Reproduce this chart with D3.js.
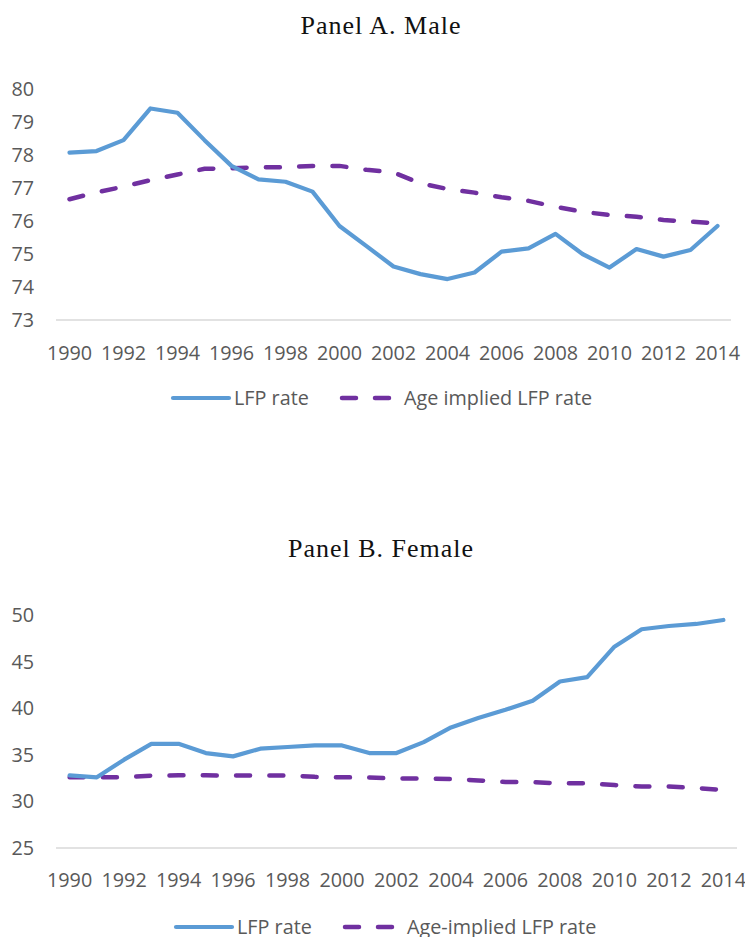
<!DOCTYPE html>
<html>
<head>
<meta charset="utf-8">
<script src="https://cdn.jsdelivr.net/npm/d3@7"></script>
<style>
  body { margin: 0; background: #fff; }
  svg { display: block; }
  .tick-label { font-family: "Open Sans", sans-serif; font-size: 19.8px; fill: #595959; }
  .legend-text { font-family: "Open Sans", sans-serif; font-size: 19.8px; fill: #595959; }
  .panel-title { font-family: "Liberation Serif", serif; font-size: 26px; fill: #111; }
</style>
</head>
<body>
<div id="chart"></div>
<script>
var years = d3.range(1990, 2015);

var maleLfp = [78.07, 78.12, 78.45, 79.41, 79.28, 78.45, 77.67, 77.26, 77.19, 76.89,
               75.85, 75.24, 74.62, 74.39, 74.24, 74.44, 75.07, 75.17, 75.61, 75.0,
               74.59, 75.15, 74.92, 75.12, 75.85];
var maleAge = [76.66, 76.87, 77.04, 77.24, 77.41, 77.58, 77.6, 77.63, 77.63, 77.67,
               77.67, 77.55, 77.47, 77.14, 76.97, 76.86, 76.72, 76.61, 76.43, 76.28,
               76.18, 76.13, 76.03, 75.98, 75.93];

var femaleLfp = [32.81, 32.6, 34.5, 36.2, 36.2, 35.21, 34.85, 35.68, 35.86, 36.03,
                 36.03, 35.21, 35.21, 36.39, 37.96, 38.97, 39.86, 40.83, 42.9, 43.37,
                 46.65, 48.52, 48.87, 49.09, 49.52];
var femaleAge = [32.6, 32.6, 32.6, 32.78, 32.81, 32.81, 32.8, 32.8, 32.8, 32.65,
                 32.6, 32.58, 32.46, 32.46, 32.42, 32.27, 32.1, 32.07, 31.95, 31.95,
                 31.77, 31.6, 31.6, 31.45, 31.24];

var maleTicks = [73, 74, 75, 76, 77, 78, 79, 80];
var femaleTicks = [25, 30, 35, 40, 45, 50];
var yearTicks = years.filter(function(d) { return d % 2 === 0; });

var width = 745, height = 937;

var svg = d3.select("#chart").append("svg")
    .attr("width", width)
    .attr("height", height);

function panel(opt) {
    var g = svg.append("g");

    var x = d3.scalePoint()
        .domain(years)
        .range([56, opt.right])
        .padding(0.5);

    var y = d3.scaleLinear()
        .domain(opt.domain)
        .range([opt.bottom, opt.top]);

    g.append("text")
        .attr("class", "panel-title")
        .attr("x", 381)
        .attr("y", opt.titleY)
        .attr("text-anchor", "middle")
        .style("letter-spacing", "1px")
        .text(opt.title);

    // baseline only
    g.append("line")
        .attr("x1", 56).attr("x2", opt.right)
        .attr("y1", y(opt.domain[0])).attr("y2", y(opt.domain[0]))
        .attr("stroke", "#d9d9d9")
        .attr("stroke-width", 1.3);

    g.selectAll(".ylab")
        .data(opt.ticks)
        .enter().append("text")
        .attr("class", "tick-label")
        .attr("x", 34)
        .attr("y", function(d) { return y(d); })
        .attr("dy", "0.35em")
        .attr("text-anchor", "end")
        .text(function(d) { return d; });

    g.selectAll(".xlab")
        .data(yearTicks)
        .enter().append("text")
        .attr("class", "tick-label")
        .attr("x", function(d) { return x(d); })
        .attr("y", opt.xLabelY)
        .attr("dy", "0.35em")
        .attr("text-anchor", "middle")
        .text(function(d) { return d; });

    var line = d3.line()
        .x(function(d, i) { return x(years[i]); })
        .y(function(d) { return y(d); });

    g.append("path")
        .datum(opt.age)
        .attr("d", line)
        .attr("fill", "none")
        .attr("stroke", "#7030a0")
        .attr("stroke-width", 4.5)
        .attr("stroke-linecap", "round")
        .attr("stroke-dasharray", "14,19.3");

    g.append("path")
        .datum(opt.lfp)
        .attr("d", line)
        .attr("fill", "none")
        .attr("stroke", "#5b9bd5")
        .attr("stroke-width", 4.2)
        .attr("stroke-linejoin", "round")
        .attr("stroke-linecap", "round");

    // legend
    var ly = opt.legendY, lx = opt.legendX;
    g.append("line")
        .attr("x1", lx).attr("x2", lx + 56)
        .attr("y1", ly).attr("y2", ly)
        .attr("stroke", "#5b9bd5")
        .attr("stroke-width", 4.2)
        .attr("stroke-linecap", "round");
    g.append("text")
        .attr("class", "legend-text")
        .attr("x", lx + 61).attr("y", ly).attr("dy", "0.35em")
        .text("LFP rate");
    g.append("line")
        .attr("x1", lx + 169).attr("x2", lx + 220)
        .attr("y1", ly).attr("y2", ly)
        .attr("stroke", "#7030a0")
        .attr("stroke-width", 4.5)
        .attr("stroke-linecap", "round")
        .attr("stroke-dasharray", "14,19");
    g.append("text")
        .attr("class", "legend-text")
        .attr("x", lx + 231).attr("y", ly).attr("dy", "0.35em")
        .text(opt.ageLabel);
}

panel({
    title: "Panel A. Male",
    titleY: 34,
    domain: [73, 80], top: 89, bottom: 320, right: 731,
    ticks: maleTicks,
    lfp: maleLfp, age: maleAge,
    xLabelY: 353,
    legendX: 173, legendY: 398,
    ageLabel: "Age implied LFP rate"
});

panel({
    title: "Panel B. Female",
    titleY: 557,
    domain: [25, 50], top: 615.5, bottom: 848, right: 737,
    ticks: femaleTicks,
    lfp: femaleLfp, age: femaleAge,
    xLabelY: 880,
    legendX: 176, legendY: 927,
    ageLabel: "Age-implied LFP rate"
});
</script>
</body>
</html>
